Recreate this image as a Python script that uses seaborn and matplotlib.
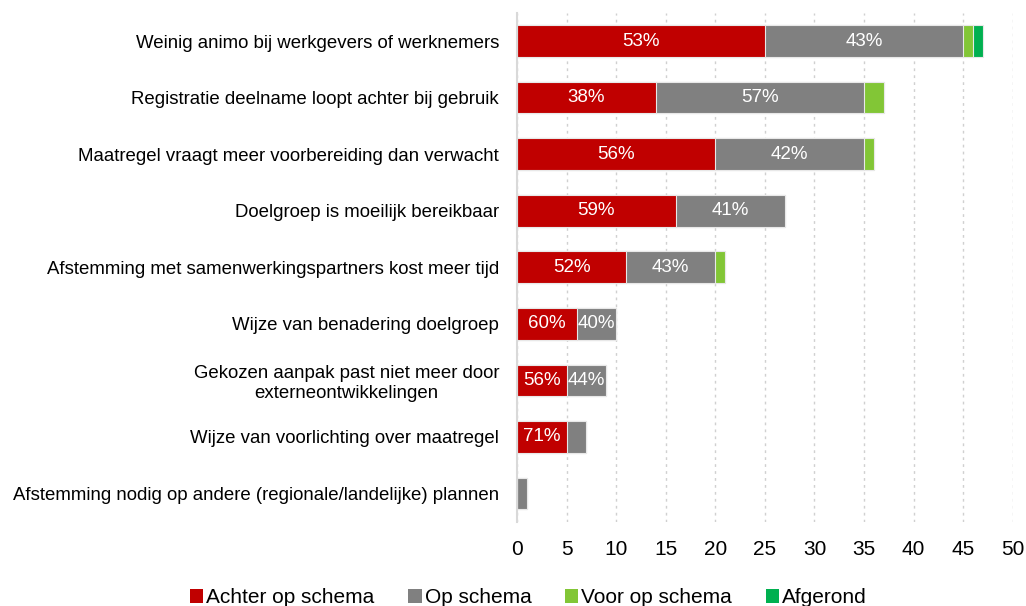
import matplotlib
matplotlib.use("Agg")
import matplotlib.pyplot as plt
import seaborn as sns
import numpy as np
import pandas as pd
from matplotlib.patches import Patch

# Data
categories = [
    "Weinig animo bij werkgevers of werknemers",
    "Registratie deelname loopt achter bij gebruik",
    "Maatregel vraagt meer voorbereiding dan verwacht",
    "Doelgroep is moeilijk bereikbaar",
    "Afstemming met samenwerkingspartners kost meer tijd",
    "Wijze van benadering doelgroep",
    "Gekozen aanpak past niet meer door\nexterneontwikkelingen",
    "Wijze van voorlichting over maatregel",
    "Afstemming nodig op andere (regionale/landelijke) plannen",
]
achter = [25, 14, 20, 16, 11, 6, 5, 5, 0]
op = [20, 21, 15, 11, 9, 4, 4, 2, 1]
voor = [1, 2, 1, 0, 1, 0, 0, 0, 0]
afgerond = [1, 0, 0, 0, 0, 0, 0, 0, 0]

series_names = ["Achter op schema", "Op schema", "Voor op schema", "Afgerond"]
colors = ["#C00000", "#808080", "#82C636", "#00B050"]

sns.set_style("white")
plt.rcParams["font.family"] = ["Liberation Sans", "DejaVu Sans"]
plt.rcParams["text.color"] = "black"
plt.rcParams["xtick.color"] = "black"
plt.rcParams["ytick.color"] = "black"

df = pd.DataFrame({"cat": categories, "a": achter, "o": op, "v": voor, "f": afgerond})
df["c1"] = df["a"]
df["c2"] = df["c1"] + df["o"]
df["c3"] = df["c2"] + df["v"]
df["c4"] = df["c3"] + df["f"]
df["total"] = df["c4"]

fig = plt.figure(figsize=(10.26, 6.06), dpi=100)
ax = fig.add_axes([0.504, 0.139, 0.483, 0.840])

# stacked: draw cumulative widths from largest to smallest
for col, color in zip(["c4", "c3", "c2", "c1"], colors[::-1]):
    sns.barplot(data=df, x=col, y="cat", color=color, width=0.56,
                edgecolor="#e8e8e8", linewidth=0.8, ax=ax, orient="h",
                saturation=1)

# percent labels
for i, row in df.iterrows():
    if row["a"] >= 3:
        ax.text(row["a"] / 2, i, f"{round(100 * row['a'] / row['total']):.0f}%",
                ha="center", va="center", color="white", fontsize=13.5)
    if row["o"] >= 3:
        ax.text(row["a"] + row["o"] / 2, i, f"{round(100 * row['o'] / row['total']):.0f}%",
                ha="center", va="center", color="white", fontsize=13.5)

ax.set_xlim(0, 50)
ax.set_ylim(8.5, -0.5)
ax.set_xticks(range(0, 51, 5))
ax.set_xlabel("")
ax.set_ylabel("")
ax.tick_params(axis="x", labelsize=15, length=0, pad=13)
ax.tick_params(axis="y", labelsize=13.4, length=0, pad=13)
for lab in ax.get_yticklabels():
    lab.set_multialignment("center")

ax.xaxis.grid(True, linestyle=(0, (2, 3)), color="#d0d0d0", linewidth=1)
ax.set_axisbelow(True)
for s in ["top", "right", "bottom"]:
    ax.spines[s].set_visible(False)
ax.spines["left"].set_color("#d9d9d9")
ax.spines["left"].set_linewidth(1.5)

handles = [Patch(facecolor=c, edgecolor="none") for c in colors]
fig.legend(handles, series_names, loc="center", bbox_to_anchor=(0.515, 0.014),
           ncol=4, frameon=False, fontsize=15, handlelength=0.65, handleheight=0.65,
           handletextpad=0.15, columnspacing=1.6)

fig.savefig("out.png", dpi=100)
